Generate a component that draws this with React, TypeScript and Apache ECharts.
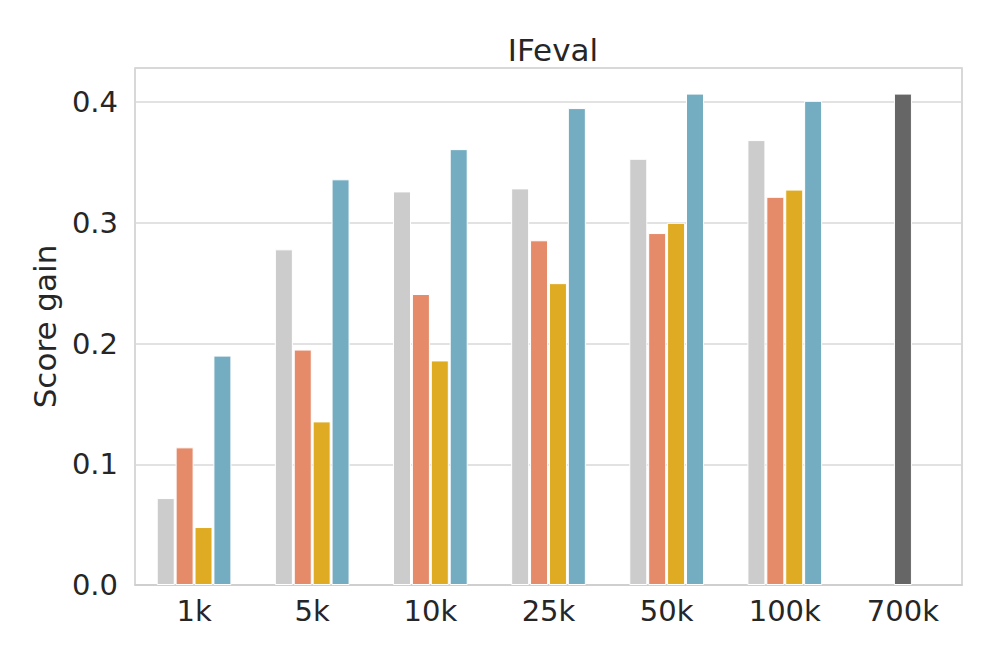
import React, { useEffect, useRef } from "react";
import * as echarts from "echarts";

const categories = ["1k", "5k", "10k", "25k", "50k", "100k", "700k"];
const seriesGray = [0.072, 0.278, 0.326, 0.3285, 0.353, 0.3685, null];
const seriesOrange = [0.114, 0.195, 0.241, 0.2855, 0.2915, 0.3215, null];
const seriesYellow = [0.048, 0.1355, 0.186, 0.25, 0.3, 0.3275, null];
const seriesBlue = [0.19, 0.336, 0.361, 0.395, 0.407, 0.401, null];
const seriesFull = [null, null, null, null, null, null, 0.407];
const yTicks = [0, 0.1, 0.2, 0.3, 0.4];

const FONT = "DejaVu Sans";

export default function App() {
  const ref = useRef<HTMLDivElement>(null);
  useEffect(() => {
    if (!ref.current) return;
    const chart = echarts.init(ref.current, null, { renderer: "svg" });
    const bar = (name: string, data: (number | null)[], color: string) => ({
      name,
      type: "bar",
      data,
      barWidth: 18,
      barGap: "5%",
      itemStyle: { color, borderColor: "#ffffff", borderWidth: 1 },
    });
    chart.setOption({
      animation: false,
      backgroundColor: "#ffffff",
      title: {
        text: "IFeval",
        left: 548,
        textAlign: "center",
        top: 29,
        textStyle: { fontFamily: FONT, fontSize: 31, fontWeight: "normal", color: "#262626" },
      },
      grid: {
        left: 135,
        right: 35,
        top: 68,
        bottom: 79,
        show: true,
        borderColor: "#cccccc",
        borderWidth: 1.5,
        backgroundColor: "transparent",
      },
      xAxis: [
        {
          type: "category",
          data: categories,
          axisLine: { show: true, lineStyle: { color: "#cccccc", width: 1.5 } },
          axisTick: { show: false },
          axisLabel: { fontFamily: FONT, fontSize: 29, color: "#262626", margin: 11 },
        },
        {
          type: "category",
          data: categories,
          show: false,
        },
      ],
      yAxis: {
        type: "value",
        min: 0,
        max: 0.4282,
        interval: 0.1,
        name: "Score gain",
        nameLocation: "middle",
        nameGap: 70,
        nameTextStyle: { fontFamily: FONT, fontSize: 31, color: "#262626" },
        axisLine: { show: false },
        axisTick: { show: false },
        splitLine: { show: true, lineStyle: { color: "#d9d9d9", width: 1.5 } },
        axisLabel: {
          fontFamily: FONT,
          fontSize: 29,
          color: "#262626",
          margin: 17,
          formatter: (v: number) =>
            yTicks.some((t) => Math.abs(t - v) < 1e-6) ? v.toFixed(1) : "",
        },
      },
      series: [
        bar("gray", seriesGray, "#cccccc"),
        bar("orange", seriesOrange, "#e58b6a"),
        bar("yellow", seriesYellow, "#dfab22"),
        bar("blue", seriesBlue, "#74adc1"),
        { ...bar("full", seriesFull, "#666666"), xAxisIndex: 1 },
      ],
    });
    return () => chart.dispose();
  }, []);
  return <div ref={ref} style={{ width: 997, height: 664, position: "absolute", left: 0, top: 0 }} />;
}
